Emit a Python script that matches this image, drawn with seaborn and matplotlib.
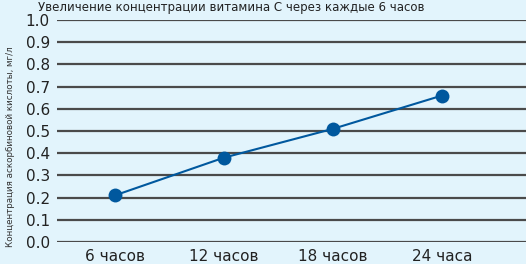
import numpy as np
import pandas as pd
import matplotlib
matplotlib.use("Agg")
import matplotlib.pyplot as plt
import seaborn as sns

# данные
periods = ["6 часов", "12 часов", "18 часов", "24 часа"]
concentration = [0.21, 0.38, 0.51, 0.66]
y_ticks = [0.0, 0.1, 0.2, 0.3, 0.4, 0.5, 0.6, 0.7, 0.8, 0.9, 1.0]
title_text = "Увеличение концентрации витамина С через каждые 6 часов"
y_label = "Концентрация аскорбиновой кислоты, мг/л"

sns.set_style("white")
plt.rcParams['font.family'] = ['Liberation Sans Narrow', 'DejaVu Sans Condensed', 'DejaVu Sans']

bg = "#e2f4fc"
blue = "#00589e"

df = pd.DataFrame({"x": np.arange(len(periods)), "y": concentration})

fig = plt.figure(figsize=(5.26, 2.64), dpi=100, facecolor=bg)
ax = fig.add_axes([0.108, 0.083, 0.892, 0.841])
ax.set_facecolor(bg)

for v in y_ticks:
    ax.axhline(v, color="#4a4a4a", lw=1.6, zorder=1)

sns.lineplot(data=df, x="x", y="y", ax=ax, color=blue, lw=1.5,
             marker="o", markersize=10, markeredgewidth=0, zorder=3)

ax.set_xlim(-0.53, 3.77)
ax.set_ylim(0, 1.0)
ax.set_yticks(y_ticks)
ax.set_yticklabels([f"{v:.1f}" for v in y_ticks], fontsize=11, color="#222222")
ax.set_xticks(df["x"])
ax.set_xticklabels(periods, fontsize=11, color="#222222")
ax.tick_params(axis="both", length=0, pad=5)
ax.set_xlabel("")
ax.set_ylabel(y_label, fontsize=6.3, color="#333333")
ax.yaxis.set_label_coords(-0.09, 0.43)
for s in ax.spines.values():
    s.set_visible(False)

fig.text(0.072, 0.998, title_text, fontsize=8.5, color="#222222", va="top", ha="left")

fig.savefig("out.png", dpi=100, facecolor=bg)
